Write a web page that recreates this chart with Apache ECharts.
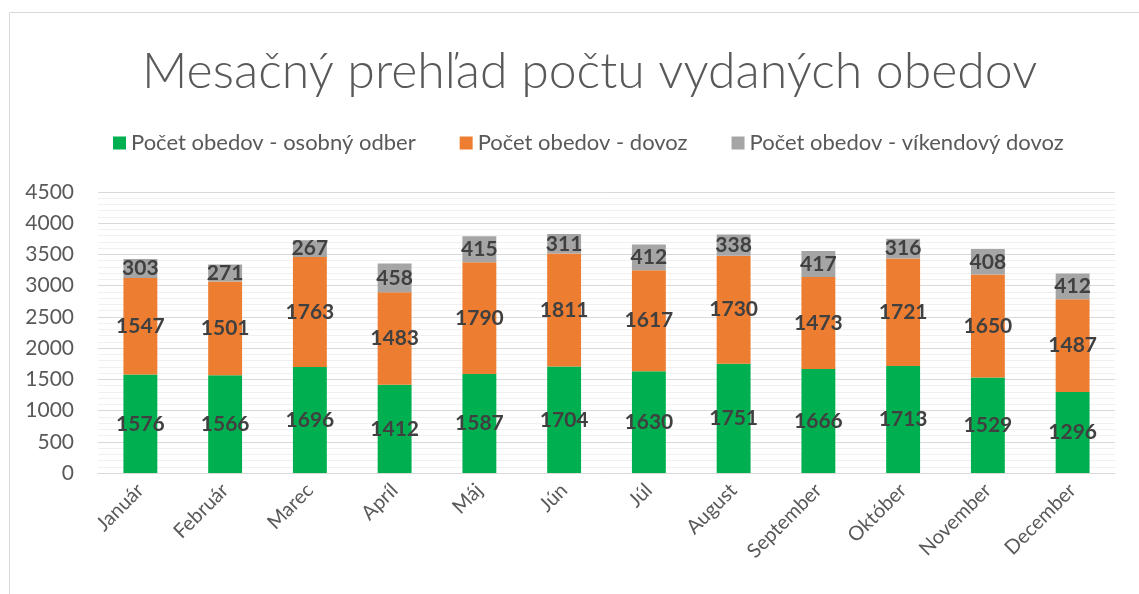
<!DOCTYPE html>
<html>
<head>
<meta charset="utf-8">
<script src="https://cdn.jsdelivr.net/npm/echarts@6/dist/echarts.min.js"></script>
<style>html,body{margin:0;padding:0;background:#fff}#c{width:1139px;height:594px}</style>
</head>
<body>
<div id="c"></div>
<script>
const titleText = "Mesačný prehľad počtu vydaných obedov";
const categories = ["Január","Február","Marec","Apríl","Máj","Jún","Júl","August","September","Október","November","December"];
const seriesNames = ["Počet obedov - osobný odber","Počet obedov - dovoz","Počet obedov - víkendový dovoz"];
const osobnyOdber = [1576,1566,1696,1412,1587,1704,1630,1751,1666,1713,1529,1296];
const dovoz = [1547,1501,1763,1483,1790,1811,1617,1730,1473,1721,1650,1487];
const vikendovyDovoz = [303,271,267,458,415,311,412,338,417,316,408,412];
const colors = ["#00B050","#ED7D31","#A5A5A5"];

const font = "Lato, 'Open Sans', sans-serif";
const chart = echarts.init(document.getElementById('c'), null, {renderer:'canvas'});
const mk = (name, data, color) => ({
  name, type:'bar', stack:'total', data, barWidth:'40%',
  itemStyle:{color},
  label:{show:true, position:'inside', color:'#404040', fontWeight:'bold', fontSize:21, fontFamily:font}
});
chart.setOption({
  animation:false,
  graphic:[{type:'rect', shape:{x:9.5,y:12.5,width:1200,height:700}, style:{fill:'none', stroke:'#D9D9D9', lineWidth:1}}],
  title:{text:titleText, left:137, top:42, textStyle:{fontFamily:font, fontWeight:300, fontSize:50, color:'#595959'}},
  legend:{top:127, left:108, itemWidth:13, itemHeight:13, itemGap:44, icon:'rect',
    textStyle:{fontFamily:font, fontSize:22, color:'#595959'}},
  grid:{left:98, right:24, top:192, bottom:121, containLabel:false},
  xAxis:{type:'category', data:categories,
    axisLine:{lineStyle:{color:'#D9D9D9'}}, axisTick:{show:false},
    axisLabel:{rotate:45, fontFamily:font, fontSize:20, color:'#595959', margin:14, interval:0}},
  yAxis:{type:'value', min:0, max:4500, interval:500,
    axisLine:{show:false}, axisTick:{show:false},
    axisLabel:{fontFamily:font, fontSize:21, color:'#595959', margin:24, formatter:v=>String(v)},
    splitLine:{lineStyle:{color:'#D9D9D9', width:1}},
    minorTick:{show:false, splitNumber:5},
    minorSplitLine:{show:true, lineStyle:{color:'#F0F0F0', width:1}}},
  series:[mk(seriesNames[0], osobnyOdber, colors[0]), mk(seriesNames[1], dovoz, colors[1]), mk(seriesNames[2], vikendovyDovoz, colors[2])]
});
</script>
</body>
</html>
